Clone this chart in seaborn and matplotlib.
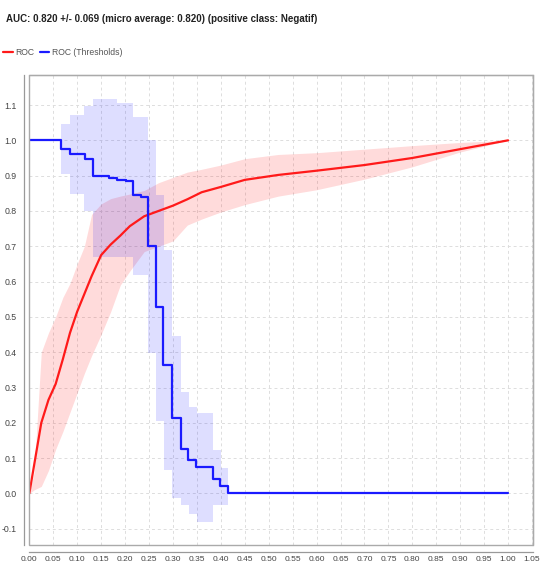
import matplotlib
matplotlib.use("Agg")
import matplotlib.pyplot as plt
import seaborn as sns
import pandas as pd
import numpy as np
from matplotlib.patches import Rectangle

# --- data ---
roc_fpr = [0, 0.01, 0.025, 0.04, 0.055, 0.07, 0.085, 0.10, 0.115, 0.13, 0.15, 0.17,
           0.19, 0.21, 0.24, 0.27, 0.30, 0.33, 0.36, 0.40, 0.45, 0.52, 0.60, 0.70,
           0.80, 0.90, 1.0]
roc_mean = [0, 0.08, 0.20, 0.265, 0.31, 0.38, 0.455, 0.515, 0.565, 0.615, 0.675, 0.705,
            0.73, 0.757, 0.785, 0.80, 0.815, 0.833, 0.853, 0.868, 0.888, 0.902, 0.914,
            0.93, 0.95, 0.975, 1.0]
roc_high = [0, 0.06, 0.40, 0.455, 0.50, 0.555, 0.595, 0.65, 0.70, 0.79, 0.82, 0.835,
            0.842, 0.848, 0.858, 0.88, 0.895, 0.91, 0.918, 0.93, 0.948, 0.96, 0.965,
            0.975, 0.985, 0.994, 1.0]
roc_low = [0, 0.01, 0.02, 0.065, 0.125, 0.175, 0.23, 0.285, 0.34, 0.39, 0.45, 0.515,
           0.59, 0.63, 0.685, 0.70, 0.715, 0.76, 0.777, 0.797, 0.818, 0.842, 0.86,
           0.89, 0.925, 0.967, 1.0]

thr_fpr = [0, 0.066, 0.084, 0.117, 0.132, 0.167, 0.184, 0.202, 0.216, 0.233, 0.247,
           0.265, 0.280, 0.298, 0.317, 0.331, 0.348, 0.383, 0.399, 0.416, 1.0]
thr_val = [1.0, 0.976, 0.961, 0.948, 0.899, 0.894, 0.889, 0.885, 0.845, 0.840, 0.700,
           0.527, 0.365, 0.213, 0.126, 0.095, 0.075, 0.042, 0.022, 0.0, 0.0]

band_fpr = [0.066, 0.084, 0.115, 0.132, 0.184, 0.216, 0.247, 0.265, 0.282, 0.299,
            0.317, 0.334, 0.350, 0.383, 0.400, 0.416]
band_low = [0.904, 0.847, 0.80, 0.669, 0.669, 0.62, 0.398, 0.206, 0.065, -0.014,
            -0.033, -0.059, -0.080, -0.033, -0.033, -0.033]
band_high = [1.046, 1.072, 1.096, 1.117, 1.105, 1.067, 1.002, 0.846, 0.69, 0.445,
             0.286, 0.244, 0.229, 0.122, 0.072, 0.072]

title = "AUC: 0.820 +/- 0.069 (micro average: 0.820) (positive class: Negatif)"

sns.set_style("white")
plt.rcParams['font.family'] = ['Liberation Sans Narrow', 'Liberation Sans', 'DejaVu Sans']

fig = plt.figure(figsize=(5.4, 5.66), dpi=100)
ax = fig.add_axes([0.0543, 0.0371, 0.9327, 0.8304])

red = "#ff1a1a"
blue = "#1a1aff"

# bands
ax.fill_between(roc_fpr, roc_low, roc_high, color="#ff0000", alpha=0.14, linewidth=0)
ax.fill_between(band_fpr, band_low, band_high, step="post", color="#0000ff",
                alpha=0.13, linewidth=0)

# curves
roc_df = pd.DataFrame({"fpr": roc_fpr, "tpr": roc_mean})
thr_df = pd.DataFrame({"fpr": thr_fpr, "thr": thr_val})
sns.lineplot(data=roc_df, x="fpr", y="tpr", ax=ax, color=red, linewidth=1.6,
             label="ROC", sort=False)
sns.lineplot(data=thr_df, x="fpr", y="thr", ax=ax, color=blue, linewidth=1.6,
             drawstyle="steps-post", label="ROC (Thresholds)", sort=False)

ax.set_xlim(0, 1.052)
ax.set_ylim(-0.146, 1.185)
ax.set_xticks(np.round(np.arange(0, 1.051, 0.05), 2))
ax.set_yticks(np.round(np.arange(-0.1, 1.11, 0.1), 1))
ax.xaxis.set_major_formatter(matplotlib.ticker.FormatStrFormatter("%.2f"))
ax.yaxis.set_major_formatter(matplotlib.ticker.FormatStrFormatter("%.1f"))
ax.grid(True, color="#dddddd", linestyle=(0, (3, 3)), linewidth=0.7)
ax.set_axisbelow(True)
ax.set_xlabel("")
ax.set_ylabel("")

# axes lines offset from the plot frame
ax.spines["left"].set_position(("outward", 4))
ax.spines["bottom"].set_position(("outward", 5))
for s in ["left", "bottom"]:
    ax.spines[s].set_color("#999999")
    ax.spines[s].set_linewidth(0.9)
for s in ["top", "right"]:
    ax.spines[s].set_color("#bbbbbb")
    ax.spines[s].set_linewidth(0.9)
ax.add_patch(Rectangle((0, 0), 1, 1, transform=ax.transAxes, fill=False,
                       edgecolor="#aaaaaa", linewidth=1.0, clip_on=False, zorder=5))
ax.tick_params(axis="y", labelsize=6.3, colors="#666666", length=3, width=0.6,
               pad=2, labelcolor="#444444")
ax.tick_params(axis="x", labelsize=6.0, colors="#666666", length=2, width=0.6,
               pad=1, labelcolor="#444444")

fig.text(0.012, 0.966, title, fontsize=7.0, fontweight="bold", color="#222222",
         ha="left", va="center")
ax.legend(loc="upper left", bbox_to_anchor=(0.0, 0.921), bbox_transform=fig.transFigure,
          frameon=False, fontsize=6.2, handlelength=1.1, handletextpad=0.3,
          columnspacing=0.6, ncol=2, labelcolor="#555555", borderaxespad=0)

fig.savefig("out.png", dpi=100)
